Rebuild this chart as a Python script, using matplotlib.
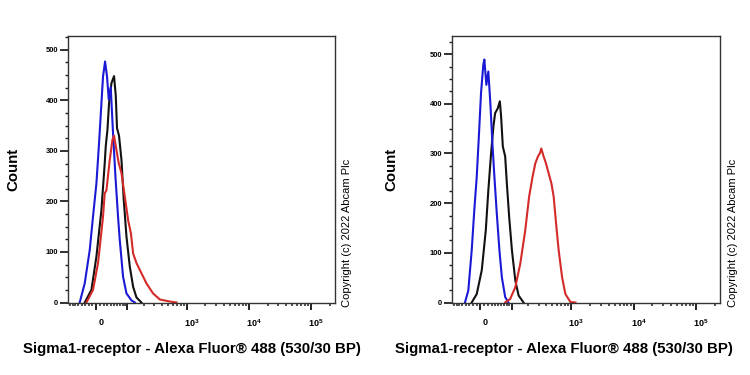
import numpy as np
import matplotlib
matplotlib.use("Agg")
import matplotlib.pyplot as plt
from matplotlib.ticker import FixedLocator, FixedFormatter, NullFormatter, MultipleLocator
from matplotlib.transforms import ScaledTranslation

plt.rcParams['font.family'] = ['Liberation Sans', 'DejaVu Sans']
plt.rcParams['mathtext.fontset'] = 'custom'
plt.rcParams['mathtext.rm'] = 'Liberation Sans:bold'
plt.rcParams['mathtext.bf'] = 'Liberation Sans:bold'
plt.rcParams['mathtext.default'] = 'rm'

# ---------------------------------------------------------------
# datos leidos del histograma (intensidad de fluorescencia, conteo)
# ---------------------------------------------------------------
izq_azul_x = [-45.8, -30.9, -17.1, -8.4, 0.5, 7.3, 13.6, 17.9, 23.4, 28.9, 33.8, 39.6,
              46.7, 54.4, 63.2, 69.3, 82.0, 96.4, 120.6, 138.5]
izq_azul_y = [0, 38, 104, 170, 236, 315, 394, 447, 477, 447, 402, 426,
              335, 249, 170, 124, 51, 18, 4, 0]

izq_negro_x = [-30.9, -12.6, 0.5, 13.6, 22.5, 25.3, 30.1, 34.6, 41.8, 49.8, 55.4, 59.7,
               66.7, 75.8, 84.8, 96.4, 111.8, 129.0, 148.3, 181.0]
izq_negro_y = [0, 25, 91, 183, 276, 309, 342, 394, 434, 448, 410, 345,
               330, 282, 203, 130, 71, 31, 10, 0]

izq_rojo_x = [-26.1, -8.4, 4.7, 17.9, 22.5, 27.2, 36.7, 44.8, 49.8, 57.7, 65.6, 75.8,
              89.0, 103.8, 117.3, 129.0, 148.3, 181.0, 220.0, 284.0, 367.0, 533.0, 684.0]
izq_rojo_y = [0, 25, 78, 170, 216, 222, 282, 322, 330, 302, 276, 256,
              210, 163, 137, 97, 78, 58, 38, 18, 6, 2, 0]

der_azul_x = [-42.1, -32.3, -22.8, -15.8, -9.4, -3.4, 1.8, 7.8, 10.5, 15.8, 21.1, 26.6,
              32.3, 38.2, 45.4, 53.8, 61.9, 73.9, 86.5]
der_azul_y = [0, 24, 105, 186, 253, 341, 422, 479, 489, 438, 465, 401,
              321, 253, 179, 105, 51, 11, 0]

der_negro_x = [-22.8, -9.4, 3.7, 14.2, 21.1, 28.6, 35.2, 40.3, 48.6, 55.1, 59.4, 65.3,
               73.9, 80.3, 89.8, 101.9, 118.3, 136.0, 166.0]
der_negro_y = [0, 17, 65, 145, 226, 300, 354, 381, 391, 405, 374, 314,
               294, 240, 172, 105, 44, 14, 0]

der_rojo_x = [73.9, 94.0, 118.3, 145.4, 177.6, 207.0, 236.5, 262.6, 290.8, 314.0, 329.5, 359.7,
              393.5, 434.0, 481.0, 524.0, 573.0, 631.0, 716.0, 809.0, 974.0, 1173.0]
der_rojo_y = [0, 7, 31, 78, 145, 213, 253, 280, 294, 301, 310, 294,
              280, 260, 240, 213, 159, 105, 51, 17, 1, 0]

ticks_mayores = [0, 100, 1000, 10000, 100000]
etiquetas_x = ['0', '', '$10^3$', '$10^4$', '$10^5$']
ticks_menores = (list(range(-80, 0, 10)) + list(range(10, 100, 10)) + list(range(200, 1000, 100))
                 + list(range(2000, 10000, 1000)) + list(range(20000, 100000, 10000)) + [200000])

TEXTO_X = 'Sigma1-receptor - Alexa Fluor® 488 (530/30 BP)'
COPY = 'Copyright (c) 2022 Abcam Plc'

AZUL = '#1a1ad6'
ROJO = '#d42a2a'
NEGRO = '#111111'

W = 70.4  # ancho de la zona lineal (biexponencial aproximada con asinh)


def directa(x):
    return np.arcsinh(np.asarray(x, dtype=float) / W)


def inversa(u):
    return W * np.sinh(np.asarray(u, dtype=float))


def estilo_panel(ax, ymax):
    ax.set_xscale('function', functions=(directa, inversa))
    ax.set_xlim(-86.5, 243000)
    ax.set_ylim(0, ymax)
    ax.xaxis.set_major_locator(FixedLocator(ticks_mayores))
    ax.xaxis.set_major_formatter(FixedFormatter(etiquetas_x))
    ax.xaxis.set_minor_locator(FixedLocator(ticks_menores))
    ax.xaxis.set_minor_formatter(NullFormatter())
    ax.yaxis.set_major_locator(MultipleLocator(100))
    ax.yaxis.set_minor_locator(MultipleLocator(25))
    ax.tick_params(axis='x', which='major', direction='out', length=5, width=1.4, pad=6,
                   labelsize=6.5, color='#222222')
    ax.tick_params(axis='x', which='minor', direction='out', length=2.5, width=1.1, color='#222222')
    ax.tick_params(axis='y', which='major', direction='out', length=5.5, width=1.3, pad=2,
                   labelsize=5.4, color='#222222')
    ax.tick_params(axis='y', which='minor', direction='out', length=2, width=1.0, color='#222222')
    for lab in ax.get_yticklabels():
        lab.set_fontweight('bold')
    desplaz = ScaledTranslation(3.5 / 72, 0, fig.dpi_scale_trans)
    for lab in ax.get_xticklabels():
        lab.set_fontweight('bold')
        lab.set_transform(lab.get_transform() + desplaz)
    for s in ax.spines.values():
        s.set_linewidth(1.0)
        s.set_color('#333333')


fig = plt.figure(figsize=(7.5, 3.75), dpi=100)
ax1 = fig.add_axes([68.3 / 750, 1 - 302.5 / 375, 266.7 / 750, 266.8 / 375])
ax2 = fig.add_axes([452.3 / 750, 1 - 302.5 / 375, 267.7 / 750, 266.8 / 375])

ax1.plot(izq_negro_x, izq_negro_y, color=NEGRO, lw=1.5)
ax1.plot(izq_azul_x, izq_azul_y, color=AZUL, lw=1.5)
ax1.plot(izq_rojo_x, izq_rojo_y, color=ROJO, lw=1.5)

ax2.plot(der_negro_x, der_negro_y, color=NEGRO, lw=1.5)
ax2.plot(der_azul_x, der_azul_y, color=AZUL, lw=1.5)
ax2.plot(der_rojo_x, der_rojo_y, color=ROJO, lw=1.5)

estilo_panel(ax1, 528)
estilo_panel(ax2, 537)

# textos de cada panel
for xc, xl, xcopy in [(13, 192, 346.5), (391, 564, 732.5)]:
    fig.text(xc / 750, 1 - 169 / 375, 'Count', rotation=90, ha='center', va='center',
             fontsize=10.8, fontweight='bold')
    fig.text(xl / 750, 1 - 349 / 375, TEXTO_X, ha='center', va='center',
             fontsize=10.8, fontweight='bold')
    fig.text(xcopy / 750, 1 - 307 / 375, COPY, rotation=90, ha='center', va='bottom',
             fontsize=8)

fig.savefig('out.png', dpi=100)
